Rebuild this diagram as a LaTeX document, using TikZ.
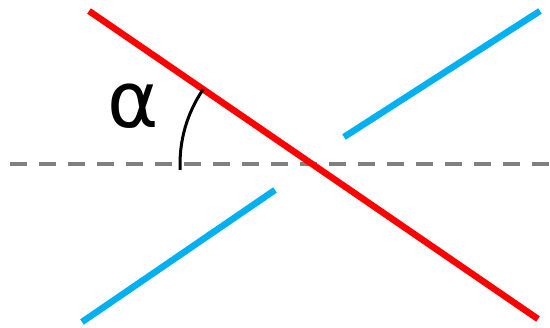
\documentclass[tikz,border=0pt]{standalone}
\usepackage{fontspec}
\newfontfamily\greekfont{DejaVu Sans}
\usetikzlibrary{calc}

\definecolor{lineblue}{HTML}{00B0F0}

\begin{document}
\begin{tikzpicture}[x=1pt, y=-1pt]

    % Fix the picture size
    \useasboundingbox (0,0) rectangle (550,328);

    % Define Red Line End Points
    \coordinate (R1) at (89, 11);
    \coordinate (R2) at (538, 319);

    % Define Horizontal Axis End Points
    \coordinate (H1) at (10, 164);
    \coordinate (H2) at (550, 164);

    % Define Blue Segment End Points
    \coordinate (B1) at (82, 322);
    \coordinate (B2) at (275, 190);
    \coordinate (B3) at (344, 137);
    \coordinate (B4) at (540, 11);

    % Crossing of red line and axis
    \coordinate (X) at (312, 164);

    % 1. Dashed Axis
    \draw[gray, line width=3.5pt, dash pattern=on 17pt off 12pt] (H1) -- (H2);

    % 2. Blue Segments
    \draw[lineblue, line width=6.5pt] (B1) -- (B2);
    \draw[lineblue, line width=6.5pt] (B3) -- (B4);

    % 3. Red Line
    \draw[red, line width=6.5pt] (R1) -- (R2);

    % --- Angle Arc and Label ---
    \draw[black, line width=3pt] ($(X)+(177.4:132)$) arc[start angle=177.4, end angle=214.4, radius=132];
    \node[font=\greekfont\fontsize{78}{78}\selectfont] (alpha) at (133, 106) {α};

\end{tikzpicture}
\end{document}
